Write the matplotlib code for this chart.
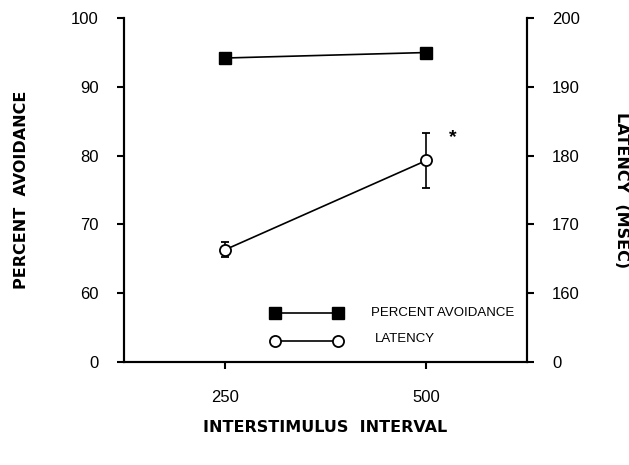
import matplotlib
matplotlib.use("Agg")
import matplotlib.pyplot as plt

# data
isi = [250, 500]
avoidance = [94.2, 95.0]
latency = [166.3, 179.3]
latency_err = [1.1, 4.0]

# broken axes: the bottom tick is labelled 0 but sits one step below 60 / 160
left_ticks = [50, 60, 70, 80, 90, 100]
left_labels = ["0", "60", "70", "80", "90", "100"]
right_ticks = [150, 160, 170, 180, 190, 200]
right_labels = ["0", "160", "170", "180", "190", "200"]

plt.rcParams["font.family"] = ["Liberation Sans", "DejaVu Sans"]

fig = plt.figure(figsize=(6.29, 4.65), dpi=100)
ax = fig.add_axes([0.197, 0.2215, 0.641, 0.7395])
ax2 = ax.twinx()

ax.plot(isi, avoidance, color="black", lw=1.2, marker="s", ms=8,
        mfc="black", mec="black", zorder=3)
ax2.errorbar(isi, latency, yerr=latency_err, color="black", lw=1.2,
             marker="o", ms=8, mfc="white", mec="black", mew=1.3,
             capsize=3, elinewidth=1.2, zorder=3)
ax2.text(533, 182.6, "*", fontsize=14, fontweight="bold", ha="center", va="center")

ax.set_xlim(125, 625)
ax.set_ylim(50, 100)
ax2.set_ylim(150, 200)

ax.set_xticks(isi)
ax.set_xticklabels(["250", "500"])
ax.set_yticks(left_ticks)
ax.set_yticklabels(left_labels)
ax2.set_yticks(right_ticks)
ax2.set_yticklabels(right_labels)

for a in (ax, ax2):
    a.spines["top"].set_visible(False)
    for s in a.spines.values():
        s.set_linewidth(1.5)
    a.tick_params(direction="out", length=5, width=1.5, labelsize=12, pad=13)
ax.tick_params(axis="x", pad=15)

lab = dict(fontsize=11.5, fontweight="bold", family="DejaVu Sans")
ax.set_ylabel("PERCENT  AVOIDANCE", labelpad=30, **lab)
ax2.set_ylabel("LATENCY  (MSEC)", rotation=270, labelpad=35, **lab)
ax.set_xlabel("INTERSTIMULUS  INTERVAL", labelpad=11, **lab)

# hand-drawn style legend inside the plot
ax.plot([312, 390], [57.1, 57.1], color="black", lw=1.2, marker="s", ms=8,
        mfc="black", mec="black", clip_on=False)
ax.text(432, 57.1, "PERCENT AVOIDANCE", fontsize=9.5, va="center")
ax2.plot([312, 390], [153.1, 153.1], color="black", lw=1.2, marker="o", ms=8,
         mfc="white", mec="black", mew=1.3, clip_on=False)
ax2.text(436, 153.4, "LATENCY", fontsize=9.5, va="center")

fig.savefig("out.png", dpi=100)
